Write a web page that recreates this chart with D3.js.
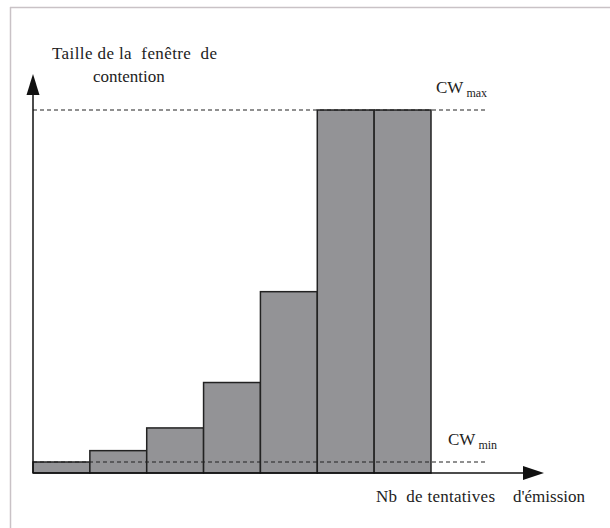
<!DOCTYPE html>
<html>
<head>
<meta charset="utf-8">
<script src="https://cdn.jsdelivr.net/npm/d3@7"></script>
<style>
html,body{margin:0;padding:0;background:#fff;overflow:hidden;}
svg{display:block;}
</style>
</head>
<body>
<svg id="chart" width="610" height="528"></svg>
<script>
// Data
const attempts = [1, 2, 3, 4, 5, 6, 7];
const cwValues = [31, 63, 127, 255, 511, 1023, 1023];
const cwMin = 31;
const cwMax = 1023;
const yTitleLines = ["Taille de la  fenêtre  de", "contention"];
const xTitleParts = ["Nb  de tentatives", "d'émission"];

const FONT = "Liberation Serif";
const svg = d3.select("#chart");

// frame (top and left edges; the rest runs off the picture)
svg.append("line").attr("x1", 10.5).attr("x2", 10.5).attr("y1", 7).attr("y2", 528)
  .attr("stroke", "#c9c2c6").attr("stroke-width", 1.5);
svg.append("line").attr("x1", 10).attr("x2", 610).attr("y1", 7.5).attr("y2", 7.5)
  .attr("stroke", "#c9c2c6").attr("stroke-width", 1.5);

const x0 = 33, baseY = 473;
const x = d3.scaleBand().domain(attempts).range([x0, 431]).padding(0);
const y = d3.scaleLinear().domain([0, cwMax]).range([baseY, 110]);

// bars
svg.append("g").selectAll("rect").data(cwValues).join("rect")
  .attr("x", (d, i) => x(attempts[i]))
  .attr("y", d => y(d))
  .attr("width", x.bandwidth())
  .attr("height", d => baseY - y(d))
  .attr("fill", "#939396")
  .attr("stroke", "#222")
  .attr("stroke-width", 1.5);

// dashed reference lines
[cwMin, cwMax].forEach(v => {
  svg.append("line")
    .attr("x1", x0).attr("x2", 486)
    .attr("y1", y(v)).attr("y2", y(v))
    .attr("stroke", "#222").attr("stroke-width", 1.2)
    .attr("stroke-dasharray", "4,3");
});

// axes
svg.append("line").attr("x1", x0).attr("x2", 525).attr("y1", baseY).attr("y2", baseY)
  .attr("stroke", "#111").attr("stroke-width", 1.5);
svg.append("path").attr("d", `M523,${baseY-7}L544,${baseY}L523,${baseY+7}Z`).attr("fill", "#111");
svg.append("line").attr("x1", x0).attr("x2", x0).attr("y1", baseY).attr("y2", 92)
  .attr("stroke", "#111").attr("stroke-width", 1.5);
svg.append("path").attr("d", `M${x0-6.5},95L${x0},74L${x0+6.5},95Z`).attr("fill", "#111");

function txt(xp, yp, s, size) {
  return svg.append("text").attr("x", xp).attr("y", yp)
    .attr("font-size", size).attr("fill", "#222")
    .attr("font-family", FONT)
    .attr("xml:space", "preserve").text(s);
}

// titles
txt(52, 59, yTitleLines[0], 17).attr("textLength", 165).attr("lengthAdjust", "spacing");
txt(93, 82, yTitleLines[1], 17);
txt(376, 502, xTitleParts[0], 17).attr("textLength", 119).attr("lengthAdjust", "spacing");
txt(513, 502, xTitleParts[1], 17);

// CW labels
function cwLabel(xp, yp, sub) {
  const t = txt(xp, yp, null, 17);
  t.append("tspan").text("CW");
  t.append("tspan").attr("dx", 3).attr("dy", 4).attr("font-size", 12).text(sub);
}
cwLabel(436, 93, "max");
cwLabel(448, 445, "min");
</script>
</body>
</html>
